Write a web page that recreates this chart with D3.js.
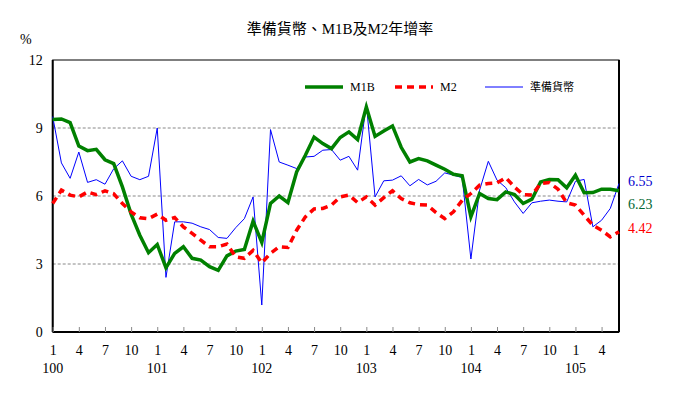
<!DOCTYPE html>
<html><head><meta charset="utf-8">
<script src="https://cdn.jsdelivr.net/npm/d3@7"></script>
<style>body{margin:0;background:#fff}text{font-family:"Liberation Serif","Noto Sans CJK TC",serif}</style>
</head><body><svg id="c" width="683" height="406"></svg>
<script>
const monthTicks=["1","4","7","10"];
const yearLabels=["100","101","102","103","104","105"];
const yTicks=[0,3,6,9,12];
const m1b=[9.37,9.4,9.24,8.2,8.0,8.06,7.6,7.43,6.4,5.2,4.27,3.5,3.86,2.83,3.47,3.76,3.25,3.17,2.88,2.72,3.36,3.57,3.64,4.89,3.95,5.67,6.0,5.71,7.06,7.8,8.6,8.31,8.09,8.58,8.83,8.49,9.93,8.63,8.87,9.09,8.15,7.5,7.65,7.55,7.36,7.18,6.96,6.89,5.08,6.11,5.89,5.84,6.18,6.06,5.67,5.86,6.62,6.73,6.72,6.36,6.92,6.14,6.15,6.3,6.3,6.23];
const m2=[5.67,6.26,6.04,5.96,6.18,6.06,6.23,6.1,5.67,5.3,5.04,5.0,5.2,4.93,5.05,4.64,4.35,4.05,3.76,3.76,3.88,3.32,3.25,3.6,3.05,3.47,3.76,3.73,4.49,5.08,5.43,5.45,5.6,5.96,6.04,5.71,5.96,5.6,5.93,6.23,5.89,5.7,5.62,5.6,5.27,5.0,5.3,5.81,6.11,6.48,6.55,6.58,6.81,6.4,6.06,6.04,6.55,6.59,6.3,5.7,5.6,5.15,4.71,4.49,4.2,4.42];
const reserve=[9.5,7.46,6.78,7.94,6.6,6.72,6.52,7.2,7.55,6.87,6.72,6.87,9.0,2.41,4.86,4.86,4.8,4.64,4.52,4.17,4.13,4.6,5.0,5.96,1.19,8.93,7.5,7.36,7.21,7.72,7.75,8.02,8.05,7.58,7.75,7.14,10.07,5.96,6.67,6.7,6.89,6.45,6.73,6.49,6.65,7.02,6.92,6.81,3.22,6.26,7.53,6.7,6.37,5.74,5.23,5.7,5.77,5.82,5.77,5.74,6.65,6.73,4.64,4.93,5.45,6.55];
const seriesNames=["M1B","M2","準備貨幣"];
const endLabels=["6.55","6.23","4.42"];

const svg=d3.select("#c");
const L=52.7,R=619,T=60,B=332;
const x=d3.scaleLinear().domain([0,65]).range([L,R]);
const y=d3.scaleLinear().domain([0,12]).range([B,T]);

svg.append("text").attr("x",340).attr("y",34).attr("text-anchor","middle").attr("font-size",15).attr("font-family","Noto Sans CJK TC").text("準備貨幣、M1B及M2年增率");
svg.append("text").attr("x",20).attr("y",44).attr("font-size",14).text("%");

[3,6,9].forEach(v=>svg.append("line").attr("x1",L).attr("x2",R).attr("y1",y(v)).attr("y2",y(v)).attr("stroke","#888").attr("stroke-dasharray","3,2"));
svg.append("rect").attr("x",L).attr("y",T).attr("width",R-L).attr("height",B-T).attr("fill","none").attr("stroke","#000").attr("stroke-width",1);
svg.append("line").attr("x1",L).attr("x2",L).attr("y1",T).attr("y2",B).attr("stroke","#000").attr("stroke-width",2);
svg.append("line").attr("x1",L).attr("x2",R).attr("y1",B).attr("y2",B).attr("stroke","#000").attr("stroke-width",2);
svg.append("line").attr("x1",R).attr("x2",R).attr("y1",T).attr("y2",B).attr("stroke","#000").attr("stroke-width",2);

const ya=svg.append("g").attr("transform",`translate(${L},0)`).call(d3.axisLeft(y).tickValues(yTicks).tickSize(0).tickPadding(10));
ya.select(".domain").remove();ya.selectAll("text").attr("font-size",14).attr("font-family","Liberation Serif");

const tickIdx=d3.range(0,66,3);
const xa=svg.append("g").attr("transform",`translate(0,${B})`).call(d3.axisBottom(x).tickValues(tickIdx).tickSize(-5).tickPadding(13).tickFormat(i=>monthTicks[(i/3)%4]));
xa.select(".domain").remove();xa.selectAll("line").attr("stroke","#888");xa.selectAll("text").attr("font-size",14).attr("font-family","Liberation Serif");
yearLabels.forEach((t,k)=>svg.append("text").attr("x",x(k*12)).attr("y",373).attr("text-anchor","middle").attr("font-size",14).text(t));

const line=d3.line().x((d,i)=>x(i)).y(d=>y(d));
svg.append("path").datum(reserve).attr("d",line).attr("fill","none").attr("stroke","#0000ff").attr("stroke-width",1);
svg.append("path").datum(m1b).attr("d",line).attr("fill","none").attr("stroke","#008000").attr("stroke-width",3.5);
svg.append("path").datum(m2).attr("d",line).attr("fill","none").attr("stroke","#ff0000").attr("stroke-width",3.5).attr("stroke-dasharray","7,5");

const leg=[{c:"#008000",w:3.5,d:null,x1:305},{c:"#ff0000",w:3.5,d:"7,5",x1:395},{c:"#0000ff",w:1,d:null,x1:485}];
leg.forEach((l,k)=>{
  svg.append("line").attr("x1",l.x1).attr("x2",l.x1+38).attr("y1",87).attr("y2",87).attr("stroke",l.c).attr("stroke-width",l.w).attr("stroke-dasharray",l.d);
  svg.append("text").attr("x",l.x1+45).attr("y",91).attr("font-size",k==2?11:12).attr("font-family",k==2?"Noto Sans CJK TC":"Liberation Serif").text(seriesNames[k]);
});
const elColors=["#0000cc","#006633","#ff0000"],elY=[186,209,233];
endLabels.forEach((t,k)=>svg.append("text").attr("x",628).attr("y",elY[k]).attr("font-size",14).attr("fill",elColors[k]).text(t));
</script></body></html>
